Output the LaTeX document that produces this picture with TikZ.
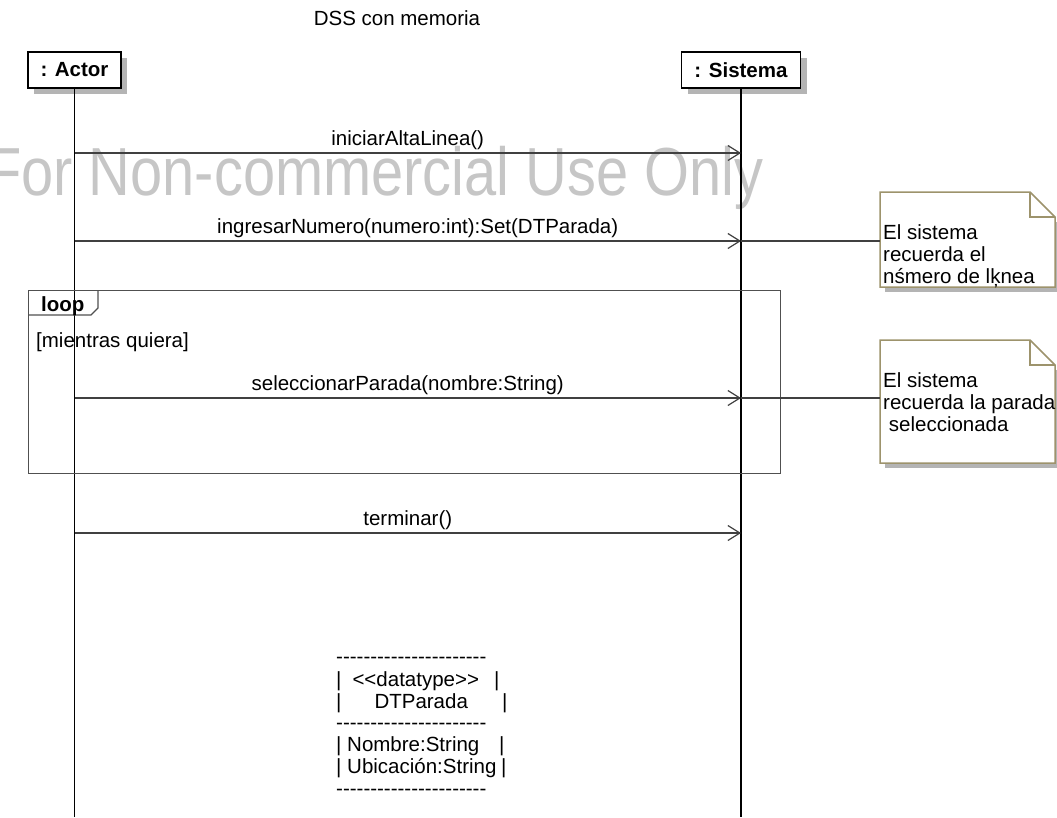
\documentclass[tikz,border=0pt]{standalone}
\usepackage{fontspec}
\setmainfont{Liberation Sans}[Ligatures=TeXOff]
\usetikzlibrary{arrows.meta,shadows}

\definecolor{shadowgray}{RGB}{180,180,180}
\definecolor{msgline}{RGB}{64,64,64}
\definecolor{frameline}{RGB}{80,80,80}
\definecolor{noteline}{RGB}{157,147,108}
\definecolor{wmgray}{RGB}{198,198,198}

\newcommand{\txtsize}{\fontsize{20.5}{22}\selectfont}

\tikzset{
  txt/.style={font=\txtsize, inner sep=0pt, anchor=base},
  ltxt/.style={font=\txtsize, inner sep=0pt, anchor=base west},
  objbox/.style={draw=black, line width=1.3pt, fill=white, inner sep=0pt,
    font=\txtsize\bfseries,
    drop shadow={shadow xshift=6pt, shadow yshift=-6pt, fill=shadowgray, opacity=1}},
  lifeline/.style={draw=black, line width=1.3pt},
  msg/.style={draw=msgline, line width=1.2pt,
    -{Straight Barb[length=12pt, width=15pt, line width=1.2pt]}},
  notelink/.style={draw=msgline, line width=1.2pt},
  notebody/.style={draw=noteline, line width=1.5pt, fill=white},
  frame/.style={draw=frameline, line width=1.4pt},
}

\begin{document}
\begin{tikzpicture}[x=1pt, y=-1pt]
\useasboundingbox (0,0) rectangle (1057,817);

% watermark behind everything
\node[inner sep=0pt, anchor=base west, text=wmgray, font=\fontsize{68}{70}\selectfont]
  (wm) at (-14,195) {\scalebox{0.85}[1]{For Non-commercial Use Only}};

% title
\node[txt] (title) at (397,25) {DSS con memoria};

% participants
\node[objbox, minimum width=93pt, minimum height=36pt] (actor) at (74.5,70) {: Actor};
\node[objbox, minimum width=119pt, minimum height=36pt] (sistema) at (741,70) {: Sistema};

\coordinate (actorend) at (74.5,817);
\coordinate (sistemaend) at (741,817);
\draw[lifeline] (actor.south) -- (actorend);
\draw[lifeline] (sistema.south) -- (sistemaend);

% points on the lifelines where messages start and end
\coordinate (m1a) at (74.5,153);  \coordinate (m1b) at (741,153);
\coordinate (m2a) at (74.5,241);  \coordinate (m2b) at (741,241);
\coordinate (m3a) at (74.5,398);  \coordinate (m3b) at (741,398);
\coordinate (m4a) at (74.5,533);  \coordinate (m4b) at (741,533);

% loop fragment
\node[frame, anchor=north west, minimum width=752pt, minimum height=183pt, inner sep=0pt]
  (loop) at (28,290) {};
\coordinate (tabA) at (28,315);
\coordinate (tabB) at (91,315);
\coordinate (tabC) at (98,308);
\coordinate (tabD) at (98,290);
\draw[frame, line width=1.2pt] (tabA) -- (tabB) -- (tabC) -- (tabD);
\node[ltxt, font=\txtsize\bfseries] (looplbl) at (41,311) {loop};
\node[ltxt] (guard) at (36,347) {[mientras quiera]};

% messages
\draw[msg] (m1a) -- (m1b) node[txt, midway, yshift=8pt] (l1) {iniciarAltaLinea()};
\draw[msg] (m2a) -- (m2b) node[txt, midway, yshift=8pt, xshift=10pt] (l2) {ingresarNumero(numero:int):Set(DTParada)};
\draw[msg] (m3a) -- (m3b) node[txt, midway, yshift=8pt] (l3) {seleccionarParada(nombre:String)};
\draw[msg] (m4a) -- (m4b) node[txt, midway, yshift=8pt] (l4) {terminar()};

% note 1
\fill[shadowgray] (885,222) rectangle (1060,292);
\draw[notebody] (880,192) -- (1030,192) -- (1055,217) -- (1055,287) -- (880,287) -- cycle;
\draw[draw=noteline, line width=1.2pt] (1030,192) -- (1030,217) -- (1055,217);
\coordinate (n1w) at (880,241);
\node[ltxt] (n1a) at (883,239) {El sistema};
\node[ltxt] (n1b) at (883,261) {recuerda el};
\node[ltxt] (n1c) at (883,283) {nśmero de lķnea};
\draw[notelink] (m2b) -- (n1w);

% note 2
\fill[shadowgray] (885,370) rectangle (1060,468);
\draw[notebody] (880,340) -- (1030,340) -- (1055,365) -- (1055,463) -- (880,463) -- cycle;
\draw[draw=noteline, line width=1.2pt] (1030,340) -- (1030,365) -- (1055,365);
\coordinate (n2w) at (880,398);
\node[ltxt] (n2a) at (883,387) {El sistema};
\node[ltxt] (n2b) at (883,409) {recuerda la parada};
\node[ltxt] (n2c) at (883,431) {\ seleccionada};
\draw[notelink] (m3b) -- (n2w);

% plain-text datatype sketch
\node[ltxt] (dt1) at (336,663) {----------------------};
\node[ltxt] (dt2) at (336,686) {\makebox[158pt][l]{|\hspace{11pt}<<datatype>>}|};
\node[ltxt] (dt3) at (336,708) {\makebox[166pt][l]{|\hspace{33pt}DTParada}|};
\node[ltxt] (dt4) at (336,729) {----------------------};
\node[ltxt] (dt5) at (336,751) {\makebox[163pt][l]{| Nombre:String}|};
\node[ltxt] (dt6) at (336,773) {\makebox[165pt][l]{| Ubicación:String}|};
\node[ltxt] (dt7) at (336,795) {----------------------};

\end{tikzpicture}
\end{document}
